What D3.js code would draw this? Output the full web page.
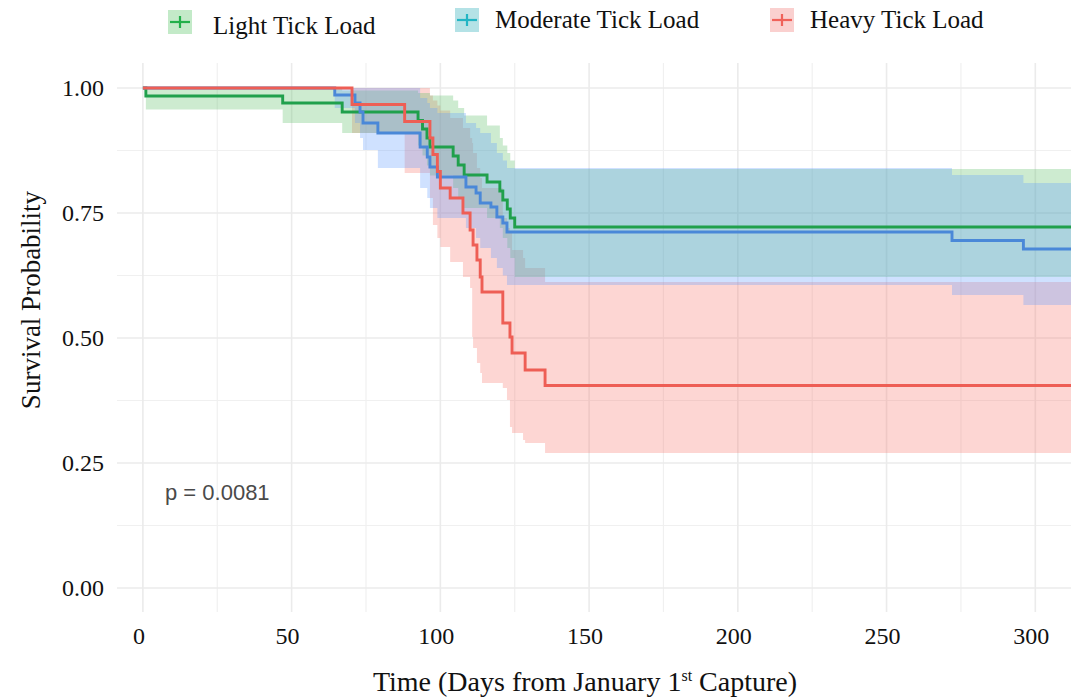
<!DOCTYPE html>
<head>
  <meta charset="utf-8">
  <script src="https://d3js.org/d3.v7.min.js"></script>
  <style>
    body { margin:0; background:#fff; }
    svg { display:block; }
  </style>
</head>
<body>
<script>
// groups
var groups = ["Light Tick Load", "Moderate Tick Load", "Heavy Tick Load"];

// Light tick load (days, survival, CI)
var lightTime  = [0, 1, 47, 67, 92.5, 94, 95.5, 96.5, 104.3, 106, 108, 115.7, 120, 121, 122.5, 123.5, 125];
var lightSurv  = [1, 0.984, 0.970, 0.952, 0.935, 0.918, 0.900, 0.882, 0.864, 0.846, 0.826, 0.812, 0.794, 0.776, 0.758, 0.740, 0.722];
var lightUpper = [1, 1, 1, 0.995, 0.99, 0.99, 0.99, 0.985, 0.975, 0.96, 0.945, 0.925, 0.90, 0.885, 0.87, 0.855, 0.838];
var lightLower = [1, 0.957, 0.93, 0.91, 0.885, 0.865, 0.845, 0.825, 0.80, 0.78, 0.76, 0.74, 0.72, 0.70, 0.68, 0.66, 0.622];

// Moderate tick load
var modTime  = [0, 64.5, 71.3, 73, 74, 79, 93.2, 95.6, 96.5, 99, 108.6, 112, 113.4, 117, 119, 121, 122.4, 272, 296];
var modSurv  = [1, 0.986, 0.970, 0.952, 0.930, 0.910, 0.882, 0.862, 0.842, 0.822, 0.802, 0.790, 0.770, 0.762, 0.742, 0.730, 0.712, 0.695, 0.678];
var modUpper = [1, 1, 1, 1, 1, 1, 0.98, 0.97, 0.96, 0.95, 0.93, 0.92, 0.91, 0.89, 0.87, 0.855, 0.84, 0.826, 0.81];
var modLower = [1, 0.96, 0.93, 0.90, 0.876, 0.84, 0.80, 0.78, 0.76, 0.74, 0.72, 0.70, 0.68, 0.66, 0.64, 0.625, 0.606, 0.586, 0.566];

// Heavy tick load
var heavyTime  = [0, 70.3, 88, 96.5, 97.5, 99, 100, 103.3, 107.6, 110, 110.7, 111, 112.3, 113.4, 114, 121, 122.4, 123.4, 124.1, 127.8, 128.5, 135.2];
var heavySurv  = [1, 0.967, 0.933, 0.900, 0.867, 0.833, 0.800, 0.780, 0.750, 0.716, 0.716, 0.686, 0.656, 0.622, 0.592, 0.530, 0.530, 0.502, 0.470, 0.470, 0.436, 0.405];
var heavyUpper = [1, 1, 1, 0.985, 0.975, 0.965, 0.955, 0.94, 0.92, 0.90, 0.89, 0.87, 0.84, 0.82, 0.80, 0.74, 0.72, 0.71, 0.676, 0.66, 0.64, 0.612];
var heavyLower = [1, 0.91, 0.83, 0.78, 0.726, 0.70, 0.682, 0.652, 0.622, 0.60, 0.502, 0.48, 0.45, 0.43, 0.41, 0.40, 0.376, 0.322, 0.31, 0.296, 0.29, 0.27];

var xTicks = [0, 50, 100, 150, 200, 250, 300];
var yTicks = [0, 0.25, 0.5, 0.75, 1];
var pLabel = "p = 0.0081";

var lineColors = ["#20a04c", "#4a88d8", "#ee5e55"];
var fillColors = ["#5abe64", "#619cff", "#f8766d"];
var legendPlus = ["#22b04a", "#22b5c4", "#f0625a"];
var legendBox  = ["#c3eac8", "#b4e2e6", "#fad0cf"];

var width = 1071, height = 698;
var xMax = 312;

var svg = d3.select("body").append("svg")
  .attr("width", width).attr("height", height);

var x = d3.scaleLinear().domain([-8.7, xMax]).range([117, 1071]);
var y = d3.scaleLinear().domain([-0.05, 1.05]).range([613, 63]);

// grid
var g = svg.append("g");
var xMinor = d3.range(25, xMax, 50);
var yMinor = [0.125, 0.375, 0.625, 0.875];
g.selectAll(".vminor").data(xMinor).enter().append("line")
  .attr("x1", d => x(d)).attr("x2", d => x(d))
  .attr("y1", 63).attr("y2", 612)
  .attr("stroke", "#f0f0f0").attr("stroke-width", 1.2);
g.selectAll(".hminor").data(yMinor).enter().append("line")
  .attr("x1", 117).attr("x2", width)
  .attr("y1", d => y(d)).attr("y2", d => y(d))
  .attr("stroke", "#f0f0f0").attr("stroke-width", 1.2);
g.selectAll(".vmajor").data(xTicks).enter().append("line")
  .attr("x1", d => x(d)).attr("x2", d => x(d))
  .attr("y1", 63).attr("y2", 612)
  .attr("stroke", "#ebebeb").attr("stroke-width", 1.6);
g.selectAll(".hmajor").data(yTicks).enter().append("line")
  .attr("x1", 117).attr("x2", width)
  .attr("y1", d => y(d)).attr("y2", d => y(d))
  .attr("stroke", "#ebebeb").attr("stroke-width", 1.6);

function build(t, s, u, l) {
  var rows = t.map((d, i) => ({t: d, s: s[i], u: u[i], l: l[i]}));
  var last = rows[rows.length - 1];
  rows.push({t: xMax, s: last.s, u: last.u, l: last.l});
  return rows;
}
var series = [
  build(lightTime, lightSurv, lightUpper, lightLower),
  build(modTime, modSurv, modUpper, modLower),
  build(heavyTime, heavySurv, heavyUpper, heavyLower)
];

var area = d3.area().curve(d3.curveStepAfter)
  .x(d => x(d.t)).y0(d => y(d.l)).y1(d => y(d.u));
var line = d3.line().curve(d3.curveStepAfter)
  .x(d => x(d.t)).y(d => y(d.s));

// bands: heavy, light, then moderate on top
[2, 0, 1].forEach(function(i) {
  svg.append("path").attr("d", area(series[i]))
    .attr("fill", fillColors[i]).attr("fill-opacity", 0.3);
});
[0, 1, 2].forEach(function(i) {
  svg.append("path").attr("d", line(series[i]))
    .attr("fill", "none").attr("stroke", lineColors[i])
    .attr("stroke-width", 2.9);
});

// axis labels
var serif = "'Liberation Serif', 'Times New Roman', serif";
svg.selectAll(".ylab").data(yTicks).enter().append("text")
  .attr("x", 104).attr("y", d => y(d) + 8)
  .attr("text-anchor", "end")
  .style("font-family", serif).style("font-size", "24px").style("fill", "#111")
  .text(d => d3.format(".2f")(d));
svg.selectAll(".xlab").data(xTicks).enter().append("text")
  .attr("x", d => x(d) - 4).attr("y", 644)
  .attr("text-anchor", "middle")
  .style("font-family", serif).style("font-size", "24px").style("fill", "#111")
  .text(d => d);

svg.append("text")
  .attr("transform", "translate(40,300) rotate(-90)")
  .attr("text-anchor", "middle")
  .style("font-family", serif).style("font-size", "27px").style("fill", "#111")
  .text("Survival Probability");

var xt = svg.append("text")
  .attr("x", 585).attr("y", 691)
  .attr("text-anchor", "middle")
  .style("font-family", serif).style("font-size", "28px").style("fill", "#111");
xt.append("tspan").text("Time (Days from January 1");
xt.append("tspan").attr("dy", -10).style("font-size", "16px").text("st");
xt.append("tspan").attr("dy", 10).text(" Capture)");

svg.append("text")
  .attr("x", 165).attr("y", 500)
  .style("font-family", "'Liberation Sans', Arial, sans-serif")
  .style("font-size", "22px").style("fill", "#4a4a4a")
  .text(pLabel);

// legend
var legX = [168, 455, 770];
var legY = [22, 20, 20];
groups.forEach(function(name, i) {
  var lg = svg.append("g").attr("transform", "translate(" + legX[i] + "," + legY[i] + ")");
  lg.append("rect").attr("x", 0).attr("y", -12).attr("width", 24).attr("height", 24)
    .attr("fill", legendBox[i]);
  lg.append("line").attr("x1", 2).attr("x2", 22).attr("y1", 0).attr("y2", 0)
    .attr("stroke", legendPlus[i]).attr("stroke-width", 2.2);
  lg.append("line").attr("x1", 12).attr("x2", 12).attr("y1", -6).attr("y2", 6)
    .attr("stroke", legendPlus[i]).attr("stroke-width", 2.2);
  lg.append("text").attr("x", i === 0 ? 45 : 40).attr("y", i === 0 ? 12 : 8)
    .style("font-family", serif).style("font-size", "25px").style("fill", "#111")
    .text(name);
});
</script>
</body>
